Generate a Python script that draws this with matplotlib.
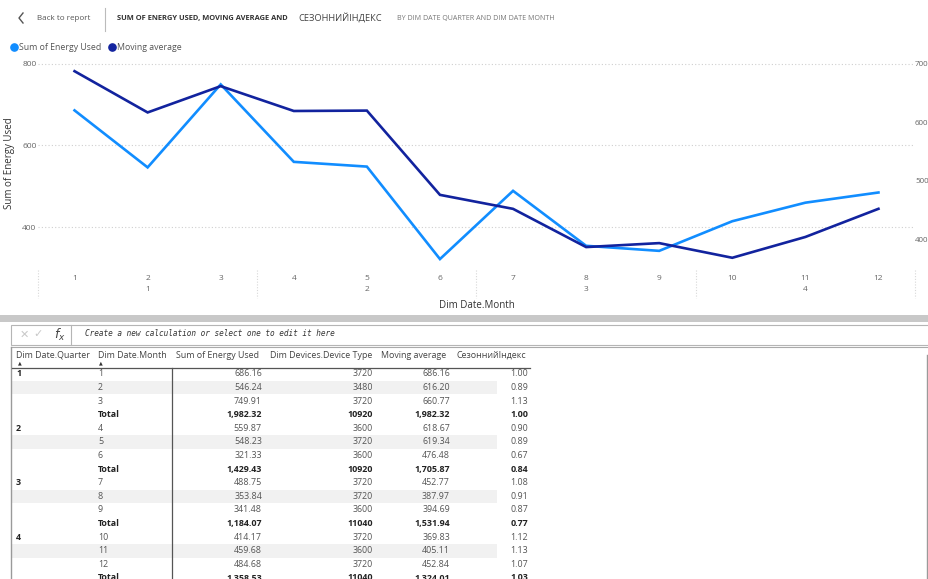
import matplotlib
matplotlib.use("Agg")
import matplotlib.pyplot as plt
from matplotlib.lines import Line2D
from matplotlib.patches import Rectangle
import matplotlib.transforms as mtransforms

# ---- data -------------------------------------------------------------
months = [1, 2, 3, 4, 5, 6, 7, 8, 9, 10, 11, 12]
quarters = [1, 2, 3, 4]
energy_used = [686.16, 546.24, 749.91, 559.87, 548.23, 321.33,
               488.75, 353.84, 341.48, 414.17, 459.68, 484.68]
device_type = [3720, 3480, 3720, 3600, 3720, 3600,
               3720, 3720, 3600, 3720, 3600, 3720]
moving_avg = [686.16, 616.20, 660.77, 618.67, 619.34, 476.48,
              452.77, 387.97, 394.69, 369.83, 405.11, 452.84]
seasonal_idx = [1.00, 0.89, 1.13, 0.90, 0.89, 0.67,
                1.08, 0.91, 0.87, 1.12, 1.13, 1.07]
total_energy = [1982.32, 1429.43, 1184.07, 1358.53]
total_device = [10920, 10920, 11040, 11040]
total_moving = [1982.32, 1705.87, 1531.94, 1324.01]
total_seasonal = [1.00, 0.84, 0.77, 1.03]

left_ticks = [400, 600, 800]
right_ticks = [400, 500, 600, 700]

C_ENERGY = "#118DFF"
C_MOVING = "#12239E"
GRAY_TXT = "#666666"

plt.rcParams['font.family'] = ['Open Sans', 'DejaVu Sans']

W, H = 929, 579
fig = plt.figure(figsize=(W / 100, H / 100), dpi=100)
fig.patch.set_facecolor("white")


def fx(x):
    return x / W


def fy(y):
    return 1 - y / H


def txt(x, y, s, **kw):
    kw.setdefault("va", "center")
    return fig.text(fx(x), fy(y), s, **kw)


def hline(x0, x1, y, **kw):
    fig.add_artist(Line2D([fx(x0), fx(x1)], [fy(y), fy(y)],
                          transform=fig.transFigure, **kw))


def vline(x, y0, y1, **kw):
    fig.add_artist(Line2D([fx(x), fx(x)], [fy(y0), fy(y1)],
                          transform=fig.transFigure, **kw))


def rect(x0, y0, x1, y1, **kw):
    fig.add_artist(Rectangle((fx(x0), fy(y1)), fx(x1) - fx(x0), fy(y0) - fy(y1),
                             transform=fig.transFigure, **kw))


# ---- header -----------------------------------------------------------
fig.add_artist(Line2D([fx(23), fx(19), fx(23)], [fy(13), fy(18), fy(23)],
                      transform=fig.transFigure, color="#555555", lw=1.0))
txt(37, 19, "Back to report", fontsize=5.8, color="#555555")
vline(105, 8, 31, color="#bbbbbb", lw=0.8)
txt(117, 18.5, "SUM OF ENERGY USED, MOVING AVERAGE AND", fontsize=5.4,
    color="#333333", fontweight="bold")
txt(298, 18, "СЕЗОННИЙІНДЕКС", fontsize=6.7, color="#444444")
txt(397, 18.5, "BY DIM DATE QUARTER AND DIM DATE MONTH", fontsize=5.1,
    color="#777777")

# legend
fig.add_artist(Line2D([fx(14)], [fy(47)], marker="o", ms=5.2, color=C_ENERGY,
                      transform=fig.transFigure, lw=0))
txt(19, 47, "Sum of Energy Used", fontsize=6.3, color="#555555")
fig.add_artist(Line2D([fx(112)], [fy(47)], marker="o", ms=5.2, color=C_MOVING,
                      transform=fig.transFigure, lw=0))
txt(117, 47, "Moving average", fontsize=6.3, color="#555555")

# ---- line chart -------------------------------------------------------
ax = fig.add_axes([fx(38), fy(268), fx(915) - fx(38), fy(58) - fy(268)])
ax.set_xlim(-0.5, len(months) - 0.5)
ax.set_ylim(299.4, 814.7)
ax2 = ax.twinx()
ax2.set_ylim(352.5, 708.5)

xs = list(range(len(months)))
ax.plot(xs, energy_used, color=C_ENERGY, lw=1.9, solid_joinstyle="miter", zorder=3)
ax2.plot(xs, moving_avg, color=C_MOVING, lw=1.9, solid_joinstyle="miter", zorder=3)

for a in (ax, ax2):
    for s in a.spines.values():
        s.set_visible(False)
    a.patch.set_visible(False)

ax.set_yticks(left_ticks)
ax.set_yticklabels([str(t) for t in left_ticks], fontsize=6.0, color=GRAY_TXT)
ax.tick_params(axis="y", length=0, pad=1)
ax2.set_yticks(right_ticks)
ax2.set_yticklabels([str(t) for t in right_ticks], fontsize=5.8, color=GRAY_TXT)
ax2.tick_params(axis="y", length=0, pad=0)
ax.grid(axis="y", linestyle=(0, (1, 2)), color="#cfcfcf", lw=0.8)

ax.set_xticks(xs)
ax.set_xticklabels([str(m) for m in months], fontsize=6.0, color=GRAY_TXT)
ax.tick_params(axis="x", length=0, pad=5)

ax.set_ylabel("Sum of Energy Used", fontsize=7.0, color="#333333")
ax.yaxis.set_label_coords((15 - 38) / (915 - 38), 0.5)

blend = mtransforms.blended_transform_factory(ax.transData, fig.transFigure)
for qi, q in enumerate(quarters):
    ax.text(qi * 3 + 1, fy(289), str(q), transform=blend, ha="center",
            va="center", fontsize=6.0, color=GRAY_TXT)
for qi in range(len(quarters) + 1):
    xb = qi * 3 - 0.5
    ax.add_artist(Line2D([xb, xb], [fy(270), fy(298)], transform=blend,
                         color="#d8d8d8", lw=0.8, linestyle=(0, (1, 1.5)),
                         clip_on=False))
txt(477, 305, "Dim Date.Month", fontsize=7.0, color="#333333", ha="center")

# ---- separator band --------------------------------------------------
rect(0, 315, W, 321.5, facecolor="#c8c8c8", edgecolor="none")

# ---- formula bar ------------------------------------------------------
rect(11, 325, W + 2, 345, facecolor="white", edgecolor="#b5b5b5", lw=0.8)
vline(71, 325, 345, color="#b5b5b5", lw=0.8)
txt(24, 335, "✕", fontsize=8, color="#c8c8c8", ha="center")
txt(38, 335, "✓", fontsize=8, color="#c8c8c8", ha="center")
txt(60, 335, "$f_x$", fontsize=9, color="#444444", ha="center")
txt(85, 334, "Create a new calculation or select one to edit it here",
    fontsize=5.6, color="#333333", family="DejaVu Sans Mono", style="italic")
hline(11, W, 347, color="#aaaaaa", lw=0.8)
vline(11, 347, H, color="#9a9a9a", lw=1.0)
vline(927, 355, H, color="#9a9a9a", lw=1.0)

# ---- matrix table -----------------------------------------------------
HDR_Y = 355
headers = [("Dim Date.Quarter", 16),
           ("Dim Date.Month", 98),
           ("Sum of Energy Used", 176),
           ("Dim Devices.Device Type", 270),
           ("Moving average", 381),
           ("СезоннийІндекс", 457)]
for label, x in headers:
    txt(x, HDR_Y, label, fontsize=6.4, color="#444444", ha="left")
for x in (20, 101):
    txt(x, 363, "▲", fontsize=3.5, color="#333333", ha="center")
hline(12, 530, 368, color="#555555", lw=0.9)
vline(172, 368, H, color="#555555", lw=0.9)

COL_SUM, COL_DEV, COL_MOV, COL_SEA = 262, 373, 450, 528
row_y0 = 374
row_h = 13.6

rows = []
for qi, q in enumerate(quarters):
    for k in range(3):
        m = qi * 3 + k
        rows.append(("q" if k == 0 else "", q, m))
    rows.append(("total", q, qi))

FS = 6.4
for i, (kind, q, idx) in enumerate(rows):
    y = row_y0 + i * row_h
    if i % 4 == 1:
        rect(12, y - row_h / 2, 497, y + row_h / 2, facecolor="#f1f1f1",
             edgecolor="none", zorder=0)
    if kind == "q":
        txt(16, y, str(q), fontsize=FS, color="#222222", fontweight="bold")
    if kind == "total":
        vals = [f"{total_energy[idx]:,.2f}", f"{total_device[idx]}",
                f"{total_moving[idx]:,.2f}", f"{total_seasonal[idx]:.2f}"]
        txt(98, y, "Total", fontsize=FS, color="#222222", fontweight="bold")
        weight, col = "bold", "#222222"
    else:
        vals = [f"{energy_used[idx]:,.2f}", f"{device_type[idx]}",
                f"{moving_avg[idx]:,.2f}", f"{seasonal_idx[idx]:.2f}"]
        txt(98, y, str(months[idx]), fontsize=FS, color="#555555")
        weight, col = "normal", "#555555"
    for v, x in zip(vals, (COL_SUM, COL_DEV, COL_MOV, COL_SEA)):
        txt(x, y, v, fontsize=FS, color=col, fontweight=weight, ha="right")

fig.savefig("out.png", dpi=100)
